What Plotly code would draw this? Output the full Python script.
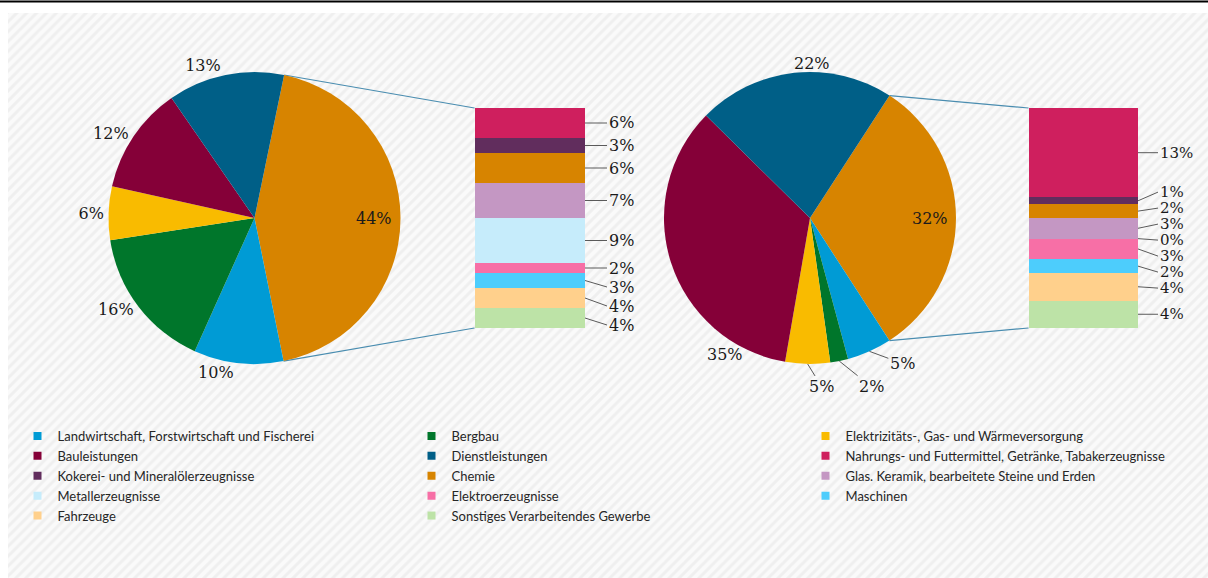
import math
import plotly.graph_objects as go

# ---------------- data ----------------
pie_categories = [
    "Landwirtschaft, Forstwirtschaft und Fischerei",
    "Bergbau",
    "Elektrizitäts-, Gas- und Wärmeversorgung",
    "Bauleistungen",
    "Dienstleistungen",
]
bar_categories = [
    "Nahrungs- und Futtermittel, Getränke, Tabakerzeugnisse",
    "Kokerei- und Mineralölerzeugnisse",
    "Chemie",
    "Glas. Keramik, bearbeitete Steine und Erden",
    "Metallerzeugnisse",
    "Elektroerzeugnisse",
    "Maschinen",
    "Fahrzeuge",
    "Sonstiges Verarbeitendes Gewerbe",
]
other_label = "Verarbeitendes Gewerbe"

left_pie_values = [10, 16, 6, 12, 13]
left_bar_values = [6, 3, 6, 7, 9, 2, 3, 4, 4]
right_pie_values = [5, 2, 5, 35, 22]
right_bar_values = [13, 1, 2, 3, 0, 3, 2, 4, 4]

# ---------------- styles / layout ----------------
pie_colors = ["#009bd5", "#00762b", "#f9bb00", "#850038", "#005f87"]
bar_colors = ["#cf1f5e", "#612d5d", "#d78400", "#c497c3", "#c6ecfb",
              "#f76fa6", "#4dcdfc", "#ffd08c", "#bde3a7"]
other_color = "#d78400"

W, H = 1208, 578
LABEL_FONT = dict(family="DejaVu Serif", size=16, color="#1a1a1a")
BAR_LABEL_FONT_R = dict(family="DejaVu Serif", size=15, color="#1a1a1a")
LEGEND_FONT = dict(family="Lato", size=13, color="#262626")
CONNECTOR = "#4a8db0"
LEADER = "#5a5a5a"

# label placement of the right pie's outer labels: (angle deg clockwise from 12h, radius factor, leader)
right_label_place = [(147.6, 1.18, True), (160.0, 1.23, True), (176.0, 1.16, True),
                     (212.0, 1.10, False), (0.9, 1.06, False)]

charts = [
    dict(pie=left_pie_values, bar=left_bar_values, rot=11.7,
         cx=254.5, cy=218, r=146, bx0=474.5, bx1=585, btop=108, bbot=328,
         xa="x2", ya="y2", gap=19, spread="down", place=None, bfont=LABEL_FONT, ax=22),
    dict(pie=right_pie_values, bar=right_bar_values, rot=33.0,
         cx=810.0, cy=218, r=146, bx0=1028.5, bx1=1138, btop=108, bbot=328,
         xa="x3", ya="y3", gap=16, spread="both", place=right_label_place,
         bfont=BAR_LABEL_FONT_R, ax=20),
]

fig = go.Figure()

# hatched background panel (decoration) on a full-figure pixel axis
fig.add_trace(go.Scatter(
    x=[8, W, W, 8, 8], y=[13, 13, H, H, 13], mode="lines",
    fill="toself", fillcolor="#fafafa", line=dict(width=0),
    fillpattern=dict(shape="/", fgcolor="#e3e3e3", bgcolor="#fafafa",
                     size=7, solidity=0.42),
    hoverinfo="skip", showlegend=False, xaxis="x", yaxis="y"))

annotations = []
layout_axes = {}


def polar(c, ang_deg, rad):
    a = math.radians(ang_deg)
    return c["cx"] + rad * math.sin(a), c["cy"] - rad * math.cos(a)


for k, c in enumerate(charts):
    agg = sum(c["bar"])
    pie_vals = [agg] + c["pie"]
    total = sum(pie_vals)

    # slice angles (clockwise from 12 o'clock, starting at rotation)
    starts, mids = [], []
    acc = c["rot"]
    for v in pie_vals:
        starts.append(acc)
        mids.append(acc + 180.0 * v / total)
        acc += 360.0 * v / total

    if c["place"] is None:
        tpos = ["none"] + ["outside"] * len(c["pie"])
    else:
        tpos = ["none"] * len(pie_vals)

    fig.add_trace(go.Pie(
        labels=[other_label] + pie_categories,
        values=pie_vals,
        marker=dict(colors=[other_color] + pie_colors, line=dict(width=0)),
        sort=False, direction="clockwise", rotation=c["rot"],
        textposition=tpos,
        texttemplate="%{value}%",
        textfont=LABEL_FONT, outsidetextfont=LABEL_FONT,
        domain=dict(x=[(c["cx"] - c["r"]) / W, (c["cx"] + c["r"]) / W],
                    y=[(H - c["cy"] - c["r"]) / H, (H - c["cy"] + c["r"]) / H]),
        showlegend=False, hoverinfo="label+value",
    ))

    # aggregate slice label, inside near the rim
    px, py = polar(c, mids[0], 0.82 * c["r"])
    annotations.append(dict(x=px, y=py, xref="x", yref="y", text=f"{agg}%",
                            showarrow=False, font=LABEL_FONT))

    # explicitly placed outer labels (right pie)
    if c["place"] is not None:
        for j, (ang, rf, leader) in enumerate(c["place"]):
            v = c["pie"][j]
            lx, ly = polar(c, ang, rf * c["r"])
            if leader:
                tx, ty = polar(c, mids[j + 1], c["r"])
                annotations.append(dict(
                    x=tx, y=ty, xref="x", yref="y", ax=lx, ay=ly, axref="x", ayref="y",
                    text=f"{v}%", showarrow=True, arrowhead=0, arrowwidth=1,
                    arrowcolor=LEADER, standoff=0, font=LABEL_FONT))
            else:
                annotations.append(dict(x=lx, y=ly, xref="x", yref="y", text=f"{v}%",
                                        showarrow=False, font=LABEL_FONT))

    # stacked bar (top = first category)
    for i in reversed(range(len(bar_categories))):
        fig.add_trace(go.Bar(
            x=[0], y=[c["bar"][i]], width=1, name=bar_categories[i],
            marker=dict(color=bar_colors[i], line=dict(width=0)),
            xaxis=c["xa"], yaxis=c["ya"], showlegend=False,
        ))

    n = k + 2
    layout_axes[f"xaxis{n}"] = dict(domain=[c["bx0"] / W, c["bx1"] / W], range=[-0.5, 0.5],
                                    visible=False, anchor=c["ya"], fixedrange=True)
    layout_axes[f"yaxis{n}"] = dict(domain=[(H - c["bbot"]) / H, (H - c["btop"]) / H],
                                    range=[0, agg], visible=False, anchor=c["xa"], fixedrange=True)

    # bar labels with leader lines
    scale = (c["bbot"] - c["btop"]) / agg
    centers_px, centers_val = [], []
    cum = 0
    for v in c["bar"]:
        centers_px.append(c["btop"] + (cum + v / 2) * scale)
        centers_val.append(agg - (cum + v / 2))
        cum += v
    lab = list(centers_px)
    if c["spread"] == "down":
        for i in range(1, len(lab)):
            lab[i] = max(lab[i], lab[i - 1] + c["gap"])
    else:
        for _ in range(300):
            for i in range(1, len(lab)):
                d = lab[i] - lab[i - 1]
                if d < c["gap"]:
                    shift = (c["gap"] - d) / 2
                    lab[i - 1] -= shift
                    lab[i] += shift
    for i, v in enumerate(c["bar"]):
        annotations.append(dict(
            x=0.5, y=centers_val[i], xref=c["xa"], yref=c["ya"],
            text=f"{v}%", showarrow=True, arrowhead=0, arrowwidth=1,
            arrowcolor=LEADER, ax=c["ax"], ay=lab[i] - centers_px[i],
            xanchor="left", yanchor="middle", font=c["bfont"], standoff=0,
        ))

    # connector lines from pie slice edges to bar corners
    x0, y0 = polar(c, starts[0], c["r"])
    x1, y1 = polar(c, starts[0] + 360.0 * agg / total, c["r"])
    fig.add_trace(go.Scatter(
        x=[x0, c["bx0"], None, x1, c["bx0"]],
        y=[y0, c["btop"], None, y1, c["bbot"]],
        mode="lines", line=dict(color=CONNECTOR, width=1.2),
        hoverinfo="skip", showlegend=False, xaxis="x", yaxis="y"))

# legend entries
legend_names = pie_categories + bar_categories
legend_colors = pie_colors + bar_colors
for i, (nm, col) in enumerate(zip(legend_names, legend_colors)):
    fig.add_trace(go.Scatter(
        x=[None], y=[None], mode="markers", name=nm,
        marker=dict(symbol="square", size=8, color=col),
        legendrank=i + 1, xaxis="x", yaxis="y", hoverinfo="skip"))

fig.update_layout(
    width=W, height=H, margin=dict(l=0, r=0, t=0, b=0),
    paper_bgcolor="#ffffff", plot_bgcolor="rgba(0,0,0,0)",
    barmode="stack", bargap=0,
    xaxis=dict(domain=[0, 1], range=[0, W], visible=False, fixedrange=True),
    yaxis=dict(domain=[0, 1], range=[H, 0], visible=False, fixedrange=True),
    showlegend=True,
    legend=dict(orientation="h", x=17.5 / W, y=1 - 421 / H, xanchor="left", yanchor="top",
                entrywidth=349, entrywidthmode="pixels", font=LEGEND_FONT,
                bgcolor="rgba(0,0,0,0)", itemwidth=30, traceorder="normal"),
    annotations=annotations,
    shapes=[dict(type="line", xref="paper", yref="paper", x0=0, x1=1,
                 y0=1 - 1.5 / H, y1=1 - 1.5 / H, line=dict(color="#000000", width=2))],
    **layout_axes,
)

fig.write_html("out.html", config={"displayModeBar": False},
               post_script="document.body.style.margin='0';document.body.style.overflow='hidden';")
